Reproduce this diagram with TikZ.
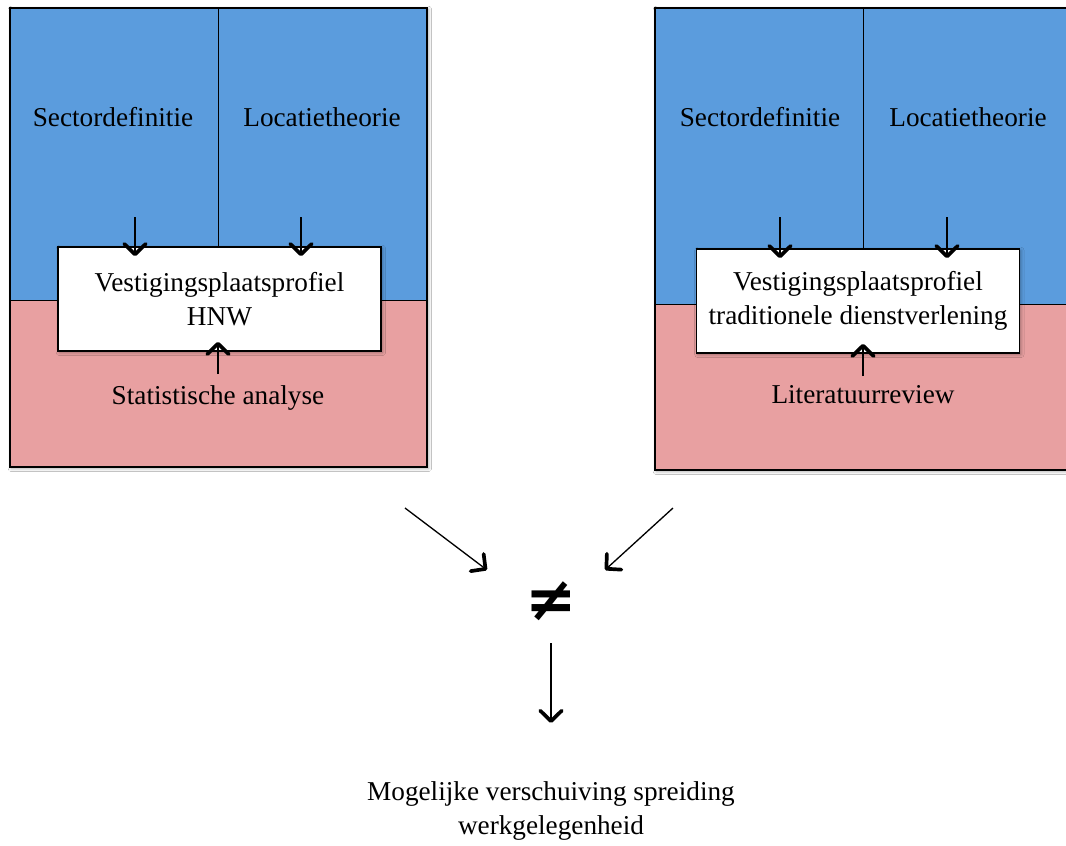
\documentclass[tikz,border=0pt]{standalone}
\usepackage{fontspec}
\setmainfont{Liberation Serif}
\newfontfamily\symfont{DejaVu Sans}
\usetikzlibrary{arrows.meta, positioning, calc, shadows.blur}
\definecolor{topblue}{HTML}{5B9CDD}
\definecolor{bottompink}{HTML}{E8A0A1}

\begin{document}
\begin{tikzpicture}[x=0.02cm, y=-0.02cm,
    txt/.style={font=\fontsize{15.5}{19.5}\selectfont, align=center, inner sep=0pt},
    dropshadow/.style={blur shadow={shadow xshift=0.8pt, shadow yshift=-0.8pt, shadow blur steps=4, shadow opacity=35}},
    block/.style={draw=black, line width=0.9pt},
    profile/.style={txt, draw=black, line width=0.9pt, fill=white, minimum width=6.46cm, minimum height=2.08cm, dropshadow},
    arr/.style={line width=0.75pt, -{Straight Barb[length=2.1mm, width=4.3mm, line width'=2.1pt, round]}}]
    \clip (0,0) rectangle (1066,846);
    \fill[white] (0,0) rectangle (1066,846);

    % Left block: HNW
    \fill[topblue, dropshadow] (10,8) rectangle (427,467);
    \fill[bottompink] (10,300) rectangle (427,467);
    \draw (10,300) -- (427,300);
    \draw (218,8) -- (218,247);
    \draw[block] (10,8) rectangle (427,467);

    % Right block: traditionele dienstverlening
    \fill[topblue, dropshadow] (655,8) rectangle (1072,470);
    \fill[bottompink] (655,304) rectangle (1072,470);
    \draw (655,304) -- (1072,304);
    \draw (863,8) -- (863,250);
    \draw[block] (655,8) rectangle (1072,470);

    % Labels left
    \node[txt] (sec-l) at (113,117) {Sectordefinitie};
    \node[txt] (loc-l) at (322,117) {Locatietheorie};
    \node[profile] (prof-l) at (219.5,299) {Vestigingsplaatsprofiel\\HNW};
    \node[txt] (stat-l) at (218,398) {Statistische analyse};

    % Labels right
    \node[txt] (sec-r) at (760,117) {Sectordefinitie};
    \node[txt] (loc-r) at (968,117) {Locatietheorie};
    \node[profile] (prof-r) at (858,301) {Vestigingsplaatsprofiel\\traditionele dienstverlening};
    \node[txt] (lit-r) at (863,395) {Literatuurreview};

    % Arrow start points
    \coordinate (sec-l-a) at (135,217);
    \coordinate (loc-l-a) at (301,217);
    \coordinate (stat-l-a) at (218,374);
    \coordinate (sec-r-a) at (780,217);
    \coordinate (loc-r-a) at (947,217);
    \coordinate (lit-r-a) at (863,376);

    % Inputs into the profiles
    \foreach \src/\dst in {sec-l-a/prof-l, loc-l-a/prof-l, sec-r-a/prof-r, loc-r-a/prof-r}
        \draw[arr] (\src) -- ($(\src |- \dst.north)+(0,10)$);
    \draw[arr] (stat-l-a) -- ($(stat-l-a |- prof-l.south)+(0,-10)$);
    \draw[arr] (lit-r-a) -- ($(lit-r-a |- prof-r.south)+(0,-10)$);

    % Comparison
    \node[font=\symfont\bfseries\fontsize{35}{35}\selectfont, inner sep=0pt] (neq) at (551,601) {≠};
    \coordinate (cmp-l-a) at (405,508);
    \coordinate (cmp-l-b) at (487,570);
    \coordinate (cmp-r-a) at (673,508);
    \coordinate (cmp-r-b) at (605,570);
    \draw[arr] (cmp-l-a) -- (cmp-l-b);
    \draw[arr] (cmp-r-a) -- (cmp-r-b);

    % Result
    \node[txt] (result) at (551,811) {Mogelijke verschuiving spreiding\\werkgelegenheid};
    \coordinate (res-a) at (551,643);
    \coordinate (res-b) at (551,723);
    \draw[arr] (res-a) -- (res-b);
\end{tikzpicture}
\end{document}
